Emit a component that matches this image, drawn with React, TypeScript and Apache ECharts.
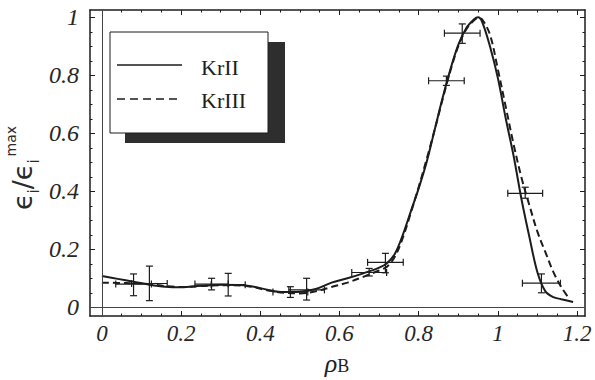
import React, { useEffect, useRef } from "react";
import * as echarts from "echarts";

// ---- Axis ticks ----
const xTickValues = [0, 0.2, 0.4, 0.6, 0.8, 1, 1.2];
const xTickLabels = ["0", "0.2", "0.4", "0.6", "0.8", "1", "1.2"];
const xMinorTicks = [0.05, 0.1, 0.15, 0.25, 0.3, 0.35, 0.45, 0.5, 0.55, 0.65, 0.7, 0.75, 0.85, 0.9, 0.95, 1.05, 1.1, 1.15];
const yTickValues = [0, 0.2, 0.4, 0.6, 0.8, 1];
const yTickLabels = ["0", "0.2", "0.4", "0.6", "0.8", "1"];
const yMinorTicks = [0.05, 0.1, 0.15, 0.25, 0.3, 0.35, 0.45, 0.5, 0.55, 0.65, 0.7, 0.75, 0.85, 0.9, 0.95];

// ---- KrII (solid) ----
const krIIx = [0, 0.04, 0.08, 0.12, 0.16, 0.2, 0.25, 0.3, 0.35, 0.38, 0.42, 0.46, 0.5, 0.54, 0.58, 0.62, 0.66, 0.7, 0.72, 0.74, 0.76, 0.78, 0.8, 0.82, 0.84, 0.86, 0.88, 0.9, 0.92, 0.94, 0.95, 0.96, 0.98, 1.0, 1.02, 1.04, 1.06, 1.08, 1.1, 1.12, 1.14, 1.16, 1.19];
const krIIy = [0.108, 0.098, 0.088, 0.078, 0.071, 0.069, 0.074, 0.078, 0.077, 0.072, 0.06, 0.053, 0.054, 0.063, 0.085, 0.1, 0.117, 0.137, 0.152, 0.185, 0.25, 0.33, 0.41, 0.5, 0.61, 0.72, 0.82, 0.905, 0.962, 0.993, 1.0, 0.985, 0.9, 0.79, 0.65, 0.52, 0.37, 0.24, 0.12, 0.055, 0.035, 0.028, 0.018];

// ---- KrIII (dashed) ----
const krIIIx = [0, 0.04, 0.08, 0.12, 0.16, 0.2, 0.25, 0.3, 0.35, 0.38, 0.42, 0.46, 0.5, 0.54, 0.58, 0.62, 0.66, 0.7, 0.72, 0.74, 0.76, 0.78, 0.8, 0.82, 0.84, 0.86, 0.88, 0.9, 0.92, 0.94, 0.95, 0.96, 0.98, 1.0, 1.02, 1.04, 1.06, 1.08, 1.1, 1.12, 1.14, 1.16, 1.18];
const krIIIy = [0.085, 0.084, 0.083, 0.08, 0.073, 0.07, 0.073, 0.076, 0.075, 0.07, 0.058, 0.05, 0.048, 0.055, 0.07, 0.085, 0.105, 0.127, 0.14, 0.175, 0.24, 0.325, 0.415, 0.51, 0.61, 0.715, 0.815, 0.9, 0.958, 0.99, 0.997, 0.993, 0.94, 0.82, 0.69, 0.56, 0.445, 0.35, 0.26, 0.19, 0.122, 0.07, 0.03];

// ---- Measured points with error bars ----
const ptX = [0.08, 0.12, 0.277, 0.319, 0.476, 0.517, 0.675, 0.716, 0.87, 0.91, 1.069, 1.11];
const ptY = [0.08, 0.082, 0.08, 0.078, 0.053, 0.06, 0.12, 0.155, 0.781, 0.945, 0.393, 0.083];
const ptXErr = [0.045, 0.045, 0.042, 0.043, 0.044, 0.045, 0.044, 0.045, 0.045, 0.045, 0.044, 0.048];
const ptYLow = [0.04, 0.023, 0.06, 0.039, 0.034, 0.025, 0.108, 0.119, 0.765, 0.91, 0.376, 0.05];
const ptYHigh = [0.115, 0.142, 0.1, 0.117, 0.071, 0.1, 0.134, 0.186, 0.797, 0.977, 0.414, 0.115];

const INK = "#1c1c1c";
const SERIF = "'Liberation Serif', 'Times New Roman', Times, serif";
const SANS = "'DejaVu Sans', sans-serif";
const X_MIN = -0.03, X_MAX = 1.22, Y_MIN = -0.03, Y_MAX = 1.025;

function labelFor(values: number[], labels: string[]) {
  return (v: number) => {
    const i = values.findIndex((t) => Math.abs(t - v) < 1e-9);
    return i >= 0 ? labels[i] : "";
  };
}

function axis(kind: "x" | "y", position: string, major: boolean, withLabels: boolean) {
  const isX = kind === "x";
  const values = isX ? (major ? xTickValues : xMinorTicks) : major ? yTickValues : yMinorTicks;
  return {
    type: "value",
    position,
    min: isX ? X_MIN : Y_MIN,
    max: isX ? X_MAX : Y_MAX,
    axisLine: major
      ? { show: true, onZero: false, lineStyle: { color: INK, width: 1.5 } }
      : { show: false, onZero: false },
    axisTick: {
      show: true,
      inside: true,
      length: major ? 5 : 2.5,
      customValues: values,
      lineStyle: { color: INK, width: 1 },
    },
    axisLabel: withLabels
      ? {
          show: true,
          customValues: values,
          formatter: isX ? labelFor(xTickValues, xTickLabels) : labelFor(yTickValues, yTickLabels),
          margin: isX ? 6 : 11,
          fontFamily: SERIF,
          fontStyle: "italic",
          fontSize: isX ? 23 : 24,
          color: "#262626",
        }
      : { show: false },
    splitLine: { show: false },
    minorTick: { show: false },
  };
}

export default function App() {
  const ref = useRef<HTMLDivElement>(null);
  useEffect(() => {
    if (!ref.current) return;
    const chart = echarts.init(ref.current, null, { renderer: "svg" });

    const errData = ptX.map((x, i) => [x, ptY[i], ptXErr[i], ptYLow[i], ptYHigh[i]]);

    const option: any = {
      animation: false,
      backgroundColor: "#ffffff",
      grid: { left: 90, right: 10, top: 10, bottom: 64, containLabel: false },
      xAxis: [
        axis("x", "bottom", true, true),
        axis("x", "bottom", false, false),
        axis("x", "top", true, false),
        axis("x", "top", false, false),
      ],
      yAxis: [
        axis("y", "left", true, true),
        axis("y", "left", false, false),
        axis("y", "right", true, false),
        axis("y", "right", false, false),
      ],
      series: [
        {
          name: "KrII",
          type: "line",
          data: krIIx.map((x, i) => [x, krIIy[i]]),
          smooth: 0.35,
          showSymbol: false,
          lineStyle: { color: INK, width: 2 },
          z: 3,
          markLine: {
            silent: true,
            symbol: "none",
            label: { show: false },
            lineStyle: { color: "#444", width: 1, type: "solid" },
            data: [{ xAxis: 0 }, { yAxis: 0 }],
          },
        },
        {
          name: "KrIII",
          type: "line",
          data: krIIIx.map((x, i) => [x, krIIIy[i]]),
          smooth: 0.35,
          showSymbol: false,
          lineStyle: { color: INK, width: 2, type: [7, 4] },
          z: 3,
        },
        {
          name: "data",
          type: "custom",
          data: errData,
          encode: { x: 0, y: [1, 3, 4] },
          z: 4,
          renderItem: (params: any, api: any) => {
            const x = api.value(0), y = api.value(1), xe = api.value(2), lo = api.value(3), hi = api.value(4);
            const pL = api.coord([x - xe, y]);
            const pR = api.coord([x + xe, y]);
            const pLo = api.coord([x, lo]);
            const pHi = api.coord([x, hi]);
            const c = 3.5;
            const st = { stroke: INK, lineWidth: 1.2 };
            const ln = (x1: number, y1: number, x2: number, y2: number) => ({
              type: "line",
              shape: { x1, y1, x2, y2 },
              style: st,
            });
            return {
              type: "group",
              children: [
                ln(pL[0], pL[1], pR[0], pR[1]),
                ln(pL[0], pL[1] - c, pL[0], pL[1] + c),
                ln(pR[0], pR[1] - c, pR[0], pR[1] + c),
                ln(pLo[0], pLo[1], pHi[0], pHi[1]),
                ln(pLo[0] - c, pLo[1], pLo[0] + c, pLo[1]),
                ln(pHi[0] - c, pHi[1], pHi[0] + c, pHi[1]),
              ],
            };
          },
        },
      ],
      graphic: [
        { type: "rect", shape: { x: 125, y: 42, width: 160, height: 101 }, style: { fill: "#2e2e2e" }, z: 100 },
        {
          type: "rect",
          shape: { x: 110, y: 32, width: 158, height: 101 },
          style: { fill: "#ffffff", stroke: INK, lineWidth: 1 },
          z: 101,
        },
        { type: "line", shape: { x1: 117, y1: 65, x2: 182, y2: 65 }, style: { stroke: INK, lineWidth: 1.5 }, z: 102 },
        {
          type: "line",
          shape: { x1: 117, y1: 99, x2: 182, y2: 99 },
          style: { stroke: INK, lineWidth: 1.5, lineDash: [8, 5] },
          z: 102,
        },
        {
          type: "text",
          x: 201,
          y: 67.5,
          z: 102,
          style: {
            text: "KrII",
            fontFamily: SERIF,
            fontSize: 22,
            fill: "#1e1e1e",
            align: "left",
            verticalAlign: "middle",
          },
        },
        {
          type: "text",
          x: 201,
          y: 100,
          z: 102,
          style: {
            text: "KrIII",
            fontFamily: SERIF,
            fontSize: 22,
            fill: "#1e1e1e",
            align: "left",
            verticalAlign: "middle",
          },
        },
        {
          type: "text",
          x: 22.7,
          y: 168,
          rotation: Math.PI / 2,
          z: 102,
          style: {
            text: "{e|ϵ}{s|i}{e|/ϵ}{s|i}{p|max}",
            fill: "#2a2a2a",
            align: "center",
            verticalAlign: "middle",
            rich: {
              e: { fontFamily: SANS, fontSize: 27, lineHeight: 38, verticalAlign: "middle", fill: "#2a2a2a" },
              s: { fontFamily: SANS, fontSize: 15, lineHeight: 18, verticalAlign: "bottom", fill: "#2a2a2a" },
              p: { fontFamily: SANS, fontSize: 14, lineHeight: 16, verticalAlign: "top", fill: "#2a2a2a", padding: [0, 0, 0, 3] },
            },
          },
        },
        {
          type: "text",
          x: 337,
          y: 363,
          z: 102,
          style: {
            text: "{r|ρ}{b|B}",
            fill: "#1e1e1e",
            align: "center",
            verticalAlign: "middle",
            rich: {
              r: { fontFamily: SERIF, fontStyle: "italic", fontSize: 26, lineHeight: 24, verticalAlign: "middle", fill: "#1e1e1e" },
              b: { fontFamily: SERIF, fontSize: 18, lineHeight: 6, verticalAlign: "bottom", fill: "#1e1e1e" },
            },
          },
        },
      ],
    };

    chart.setOption(option);
    return () => chart.dispose();
  }, []);

  return (
    <div
      ref={ref}
      style={{ position: "fixed", left: 0, top: 0, width: 595, height: 380, background: "#fff" }}
    />
  );
}
